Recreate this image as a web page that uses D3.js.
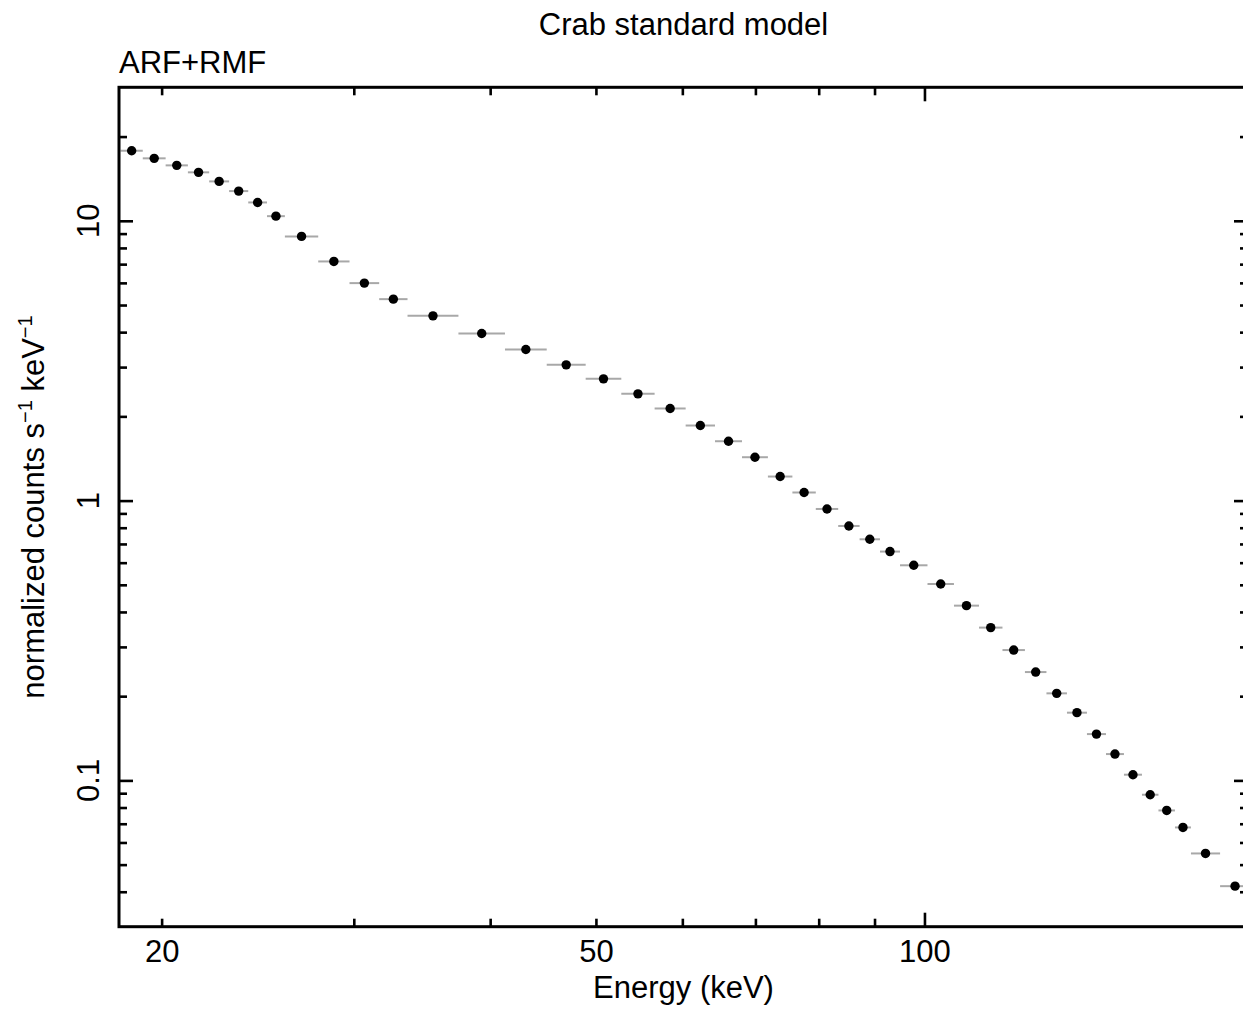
<!DOCTYPE html>
<html><head><meta charset="utf-8">
<script src="https://cdn.jsdelivr.net/npm/d3@7"></script>
<style>
body{margin:0;background:#fff}
svg{display:block}
text{font-family:"Liberation Sans",Arial,Helvetica,sans-serif;fill:#000}
</style>
</head><body><svg id="c" width="1243" height="1009"></svg>
<script>
const titleText = "Crab standard model";
const subtitleText = "ARF+RMF";
const xLabelText = "Energy (keV)";
// energy bin edges (keV)
const binEdges = [18.34,19.22,20.17,21.14,22.11,23.06,24.01,24.98,25.94,27.83,
  29.73,31.65,33.60,37.41,41.27,45.07,48.93,52.75,56.59,60.42,
  64.28,68.05,71.87,75.68,79.51,83.36,87.21,91.04,94.97,100.64,
  106.42,112.19,117.89,123.61,129.35,135.07,140.89,146.66,152.33,158.23,
  163.83,169.64,175.46,186.58,198.74];
// normalized counts s^-1 keV^-1
const counts = [17.80,16.72,15.78,14.90,13.83,12.77,11.63,10.39,
  8.796,7.157,5.988,5.248,4.574,3.957,3.469,3.056,
  2.723,2.407,2.134,1.855,1.630,1.429,1.219,1.069,
  0.9335,0.8116,0.7274,0.6574,0.5872,0.5033,0.4213,0.3516,
  0.2923,0.2439,0.2047,0.1746,0.1464,0.1242,0.1048,0.08887,
  0.07810,0.06790,0.05482,0.04188];
const xMinorTicks = [20,30,40,50,60,70,80,90];
const xMajorTicks = [100];
const xTickLabels = [20,50,100];
const yMinorTicks = [0.04,0.05,0.06,0.07,0.08,0.09,0.2,0.3,0.4,0.5,0.6,0.7,0.8,0.9,2,3,4,5,6,7,8,9,20];
const yMajorTicks = [0.1,1,10];
const yTickLabels = ["0.1","1","10"];

const W=1243,H=1009;
const L=119,R=1248,T=87.3,B=926.7;
const x=d3.scaleLog().domain([18.28,197.9]).range([L,R]);
const y=d3.scaleLog().domain([0.03,30]).range([B,T]);
const svg=d3.select("#c");
svg.append("rect").attr("width",W).attr("height",H).attr("fill","#fff");

const data = counts.map((v,i)=>({lo:binEdges[i],hi:binEdges[i+1],e:Math.sqrt(binEdges[i]*binEdges[i+1]),v}));

// error bars
svg.append("g").selectAll("line").data(data).join("line")
  .attr("x1",d=>x(d.lo)).attr("x2",d=>x(d.hi))
  .attr("y1",d=>y(d.v)).attr("y2",d=>y(d.v))
  .attr("stroke","#a8a8a8").attr("stroke-width",2);
// points
svg.append("g").selectAll("circle").data(data).join("circle")
  .attr("cx",d=>x(d.e)).attr("cy",d=>y(d.v)).attr("r",4.7).attr("fill","#000");

function tickAxis(axisFn, scale, values, len, transform){
  const g = svg.append("g").attr("transform",transform)
    .call(axisFn(scale).tickValues(values).tickSize(-len).tickFormat(""));
  g.select(".domain").remove();
  g.selectAll(".tick line").attr("stroke","#000").attr("stroke-width",2.6);
}
tickAxis(d3.axisBottom,x,xMinorTicks,8,`translate(0,${B})`);
tickAxis(d3.axisBottom,x,xMajorTicks,14,`translate(0,${B})`);
tickAxis(d3.axisTop,x,xMinorTicks,8,`translate(0,${T})`);
tickAxis(d3.axisTop,x,xMajorTicks,14,`translate(0,${T})`);
tickAxis(d3.axisLeft,y,yMinorTicks,8,`translate(${L},0)`);
tickAxis(d3.axisLeft,y,yMajorTicks,14,`translate(${L},0)`);
tickAxis(d3.axisRight,y,yMinorTicks,8,`translate(${R},0)`);
tickAxis(d3.axisRight,y,yMajorTicks,14,`translate(${R},0)`);

// frame
svg.append("rect").attr("x",L).attr("y",T).attr("width",R-L).attr("height",B-T)
  .attr("fill","none").attr("stroke","#000").attr("stroke-width",3);

// x tick labels
const gx = svg.append("g").attr("transform",`translate(0,${B})`)
  .call(d3.axisBottom(x).tickValues(xTickLabels).tickSize(0).tickPadding(13).tickFormat(d3.format("d")));
gx.select(".domain").remove();
gx.selectAll("text").attr("font-size",31).attr("font-family",'"Liberation Sans",Arial,sans-serif').attr("fill","#000");

// y tick labels (rotated)
svg.append("g").selectAll("text").data(yMajorTicks).join("text")
  .attr("transform",(d)=>`translate(99,${y(d)}) rotate(-90)`)
  .attr("text-anchor","middle").attr("font-size",31)
  .text((d,i)=>yTickLabels[i]);

// titles
svg.append("text").attr("x",(L+R)/2).attr("y",35).attr("text-anchor","middle")
  .attr("font-size",31).text(titleText);
svg.append("text").attr("x",L).attr("y",72.5).attr("font-size",31).text(subtitleText);
svg.append("text").attr("x",(L+R)/2).attr("y",998).attr("text-anchor","middle")
  .attr("font-size",31).text(xLabelText);

// y axis label
const yl = svg.append("text").attr("transform",`translate(44,${(T+B)/2}) rotate(-90)`)
  .attr("text-anchor","middle").attr("font-size",31);
yl.append("tspan").text("normalized counts s");
yl.append("tspan").attr("font-size",20).attr("dy",-12).text("\u22121");
yl.append("tspan").attr("dy",12).text(" keV");
yl.append("tspan").attr("font-size",20).attr("dy",-12).text("\u22121");
</script>
</body></html>
